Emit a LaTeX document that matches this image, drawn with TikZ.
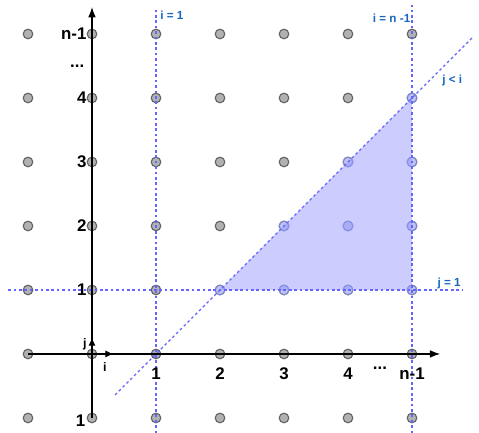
\documentclass[tikz,border=0pt]{standalone}
\usepackage{fontspec}
\setmainfont{Liberation Sans}
\usetikzlibrary{positioning,arrows.meta,calc}

\definecolor{dotgray}{RGB}{178,178,178}
\definecolor{dotedge}{RGB}{100,100,100}
\definecolor{indotfill}{RGB}{190,195,240}
\definecolor{indotedge}{RGB}{125,135,205}
\definecolor{guideblue}{RGB}{100,100,255}
\definecolor{regionblue}{RGB}{153,153,255}
\definecolor{labelblue}{RGB}{21,101,192}

\begin{document}
\begin{tikzpicture}[
    dot/.style={draw=dotedge, fill=dotgray, circle, line width=0.5pt, inner sep=0pt, minimum size=1.5mm},
    indot/.style={dot, draw=indotedge, fill=indotfill},
    axis/.style={-{Latex[length=1.6mm, width=1.2mm]}, line width=0.5pt},
    unitvec/.style={-{Latex[length=1.3mm, width=1.1mm]}, line width=0.5pt},
    guide/.style={draw=guideblue, line width=0.55pt, dash pattern=on 1.2pt off 1.2pt},
    tick/.style={font=\fontsize{7.5pt}{9pt}\selectfont\bfseries, inner sep=0pt},
    guidelabel/.style={text=labelblue, font=\fontsize{5.2pt}{6pt}\selectfont\bfseries, inner sep=0pt}
]
\useasboundingbox (-1.4375,-1.234) rectangle (6.047,5.531);

% Grid points
\foreach \c in {-1,...,5} {
  \foreach \r in {-1,...,5} {
    \node[dot] (p\c\r) at (\c,\r) {};
  }
}
% points with j < i, j >= 1, i <= n-1
\foreach \c/\r in {2/1,3/1,3/2,4/1,4/2,4/3,5/1,5/2,5/3,5/4} {
  \node[indot] (p\c\r) at (\c,\r) {};
}

% Region j < i
\fill[regionblue, fill opacity=0.5] (p21.center) -- (p54.center) -- (p51.center) -- cycle;

% Guide lines
\coordinate (itop) at (1,5.41);
\coordinate (ibot) at (1,-1.24);
\coordinate (ntop) at (5,5.45);
\coordinate (nbot) at (5,-1.24);
\coordinate (jleft) at (-1.31,1);
\coordinate (jright) at (5.8,1);
\coordinate (dlow) at (0.36,-0.64);
\coordinate (dhigh) at (5.95,4.95);
\draw[guide] (ibot) -- (itop);
\draw[guide] (nbot) -- (ntop);
\draw[guide] (jleft) -- (jright);
\draw[guide] (dlow) -- (dhigh);

% Axes
\coordinate (xend) at (5.44,0);
\coordinate (yend) at (0,5.42);
\coordinate (ihat) at (0.34,0);
\coordinate (jhat) at (0,0.26);
\draw[axis] (p-10.center) -- (xend);
\draw[axis] (p0-1.center) -- (yend);
\draw[unitvec] (p00.center) -- (ihat);
\draw[unitvec] (p00.center) -- (jhat);

% Tick labels
\node[tick, anchor=east] (y5) at (-0.08,5) {n-1};
\node[tick] (ydots) at (-0.23,4.5) {...};
\node[tick, anchor=east] (y4) at (-0.08,4) {4};
\node[tick, anchor=east] (y3) at (-0.08,3) {3};
\node[tick, anchor=east] (y2) at (-0.08,2) {2};
\node[tick, anchor=east] (y1) at (-0.08,1) {1};
\node[tick, anchor=east] (ym1) at (-0.1,-1.04) {1};
\node[tick] (x1) at (1,-0.31) {1};
\node[tick] (x2) at (2,-0.31) {2};
\node[tick] (x3) at (3,-0.31) {3};
\node[tick] (x4) at (4,-0.31) {4};
\node[tick] (xdots) at (4.5,-0.22) {...};
\node[tick] (x5) at (5,-0.31) {n-1};
\node[tick, font=\fontsize{5.5pt}{6pt}\selectfont\bfseries] (jname) at (-0.11,0.15) {j};
\node[tick, font=\fontsize{5.5pt}{6pt}\selectfont\bfseries] (iname) at (0.2,-0.2) {i};

% Guide labels
\node[guidelabel, anchor=west] (ione) at (1.06,5.3) {i = 1};
\node[guidelabel, anchor=east] (ilast) at (4.98,5.25) {i = n -1};
\node[guidelabel] (jlti) at (5.63,4.28) {j < i};
\node[guidelabel] (jone) at (5.58,1.1) {j = 1};

\end{tikzpicture}
\end{document}
